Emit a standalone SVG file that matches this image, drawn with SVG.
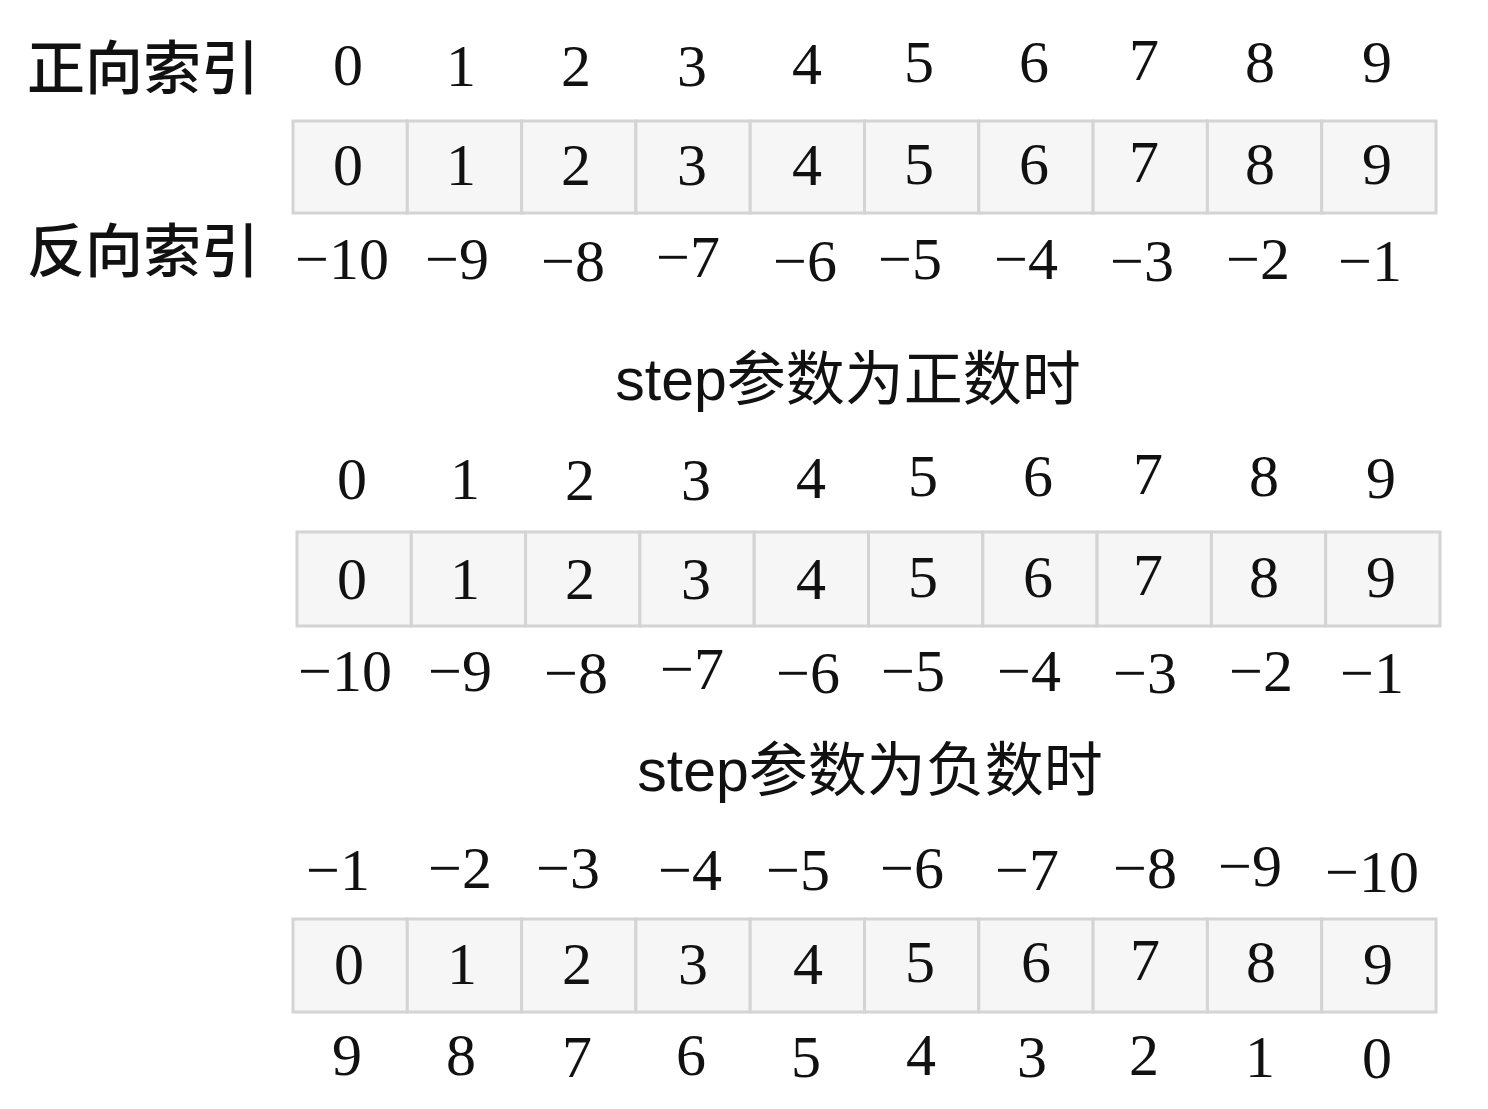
<svg xmlns="http://www.w3.org/2000/svg" width="1488" height="1109" viewBox="0 0 1488 1109">
<style>
.bg{fill:#ffffff}
.cell{fill:#f6f6f6;stroke:#d4d4d4;stroke-width:3}
.n{font-family:"Liberation Serif","Times New Roman",serif;font-size:60px;fill:#111;text-anchor:middle}
.lab{font-family:"Noto Sans CJK SC","Noto Sans",sans-serif;font-size:58px;font-weight:500;fill:#111}
.title{font-family:"Liberation Sans","Noto Sans CJK SC",sans-serif;font-size:59px;fill:#111;text-anchor:middle}
</style>
<rect class="bg" x="0" y="0" width="1488" height="1109"/>
<g id="labels">
<text class="lab" x="27" y="89">正向索引</text>
<text class="lab" x="27" y="272">反向索引</text>
</g>
<g id="array1">
<rect class="cell" x="293" y="121" width="114.3" height="92"/>
<rect class="cell" x="407.3" y="121" width="114.3" height="92"/>
<rect class="cell" x="521.6" y="121" width="114.3" height="92"/>
<rect class="cell" x="635.9" y="121" width="114.3" height="92"/>
<rect class="cell" x="750.2" y="121" width="114.3" height="92"/>
<rect class="cell" x="864.5" y="121" width="114.3" height="92"/>
<rect class="cell" x="978.8" y="121" width="114.3" height="92"/>
<rect class="cell" x="1093.1" y="121" width="114.3" height="92"/>
<rect class="cell" x="1207.4" y="121" width="114.3" height="92"/>
<rect class="cell" x="1321.7" y="121" width="114.3" height="92"/>
<text class="n" x="348" y="185">0</text>
<text class="n" x="461" y="185">1</text>
<text class="n" x="576" y="185">2</text>
<text class="n" x="692" y="185">3</text>
<text class="n" x="807" y="185">4</text>
<text class="n" x="919" y="184">5</text>
<text class="n" x="1034" y="184">6</text>
<text class="n" x="1144" y="182">7</text>
<text class="n" x="1260" y="184">8</text>
<text class="n" x="1377" y="184">9</text>
</g>
<g id="row1-top">
<text class="n" x="348" y="85">0</text>
<text class="n" x="461" y="86">1</text>
<text class="n" x="576" y="86">2</text>
<text class="n" x="692" y="86">3</text>
<text class="n" x="807" y="84">4</text>
<text class="n" x="919" y="82">5</text>
<text class="n" x="1034" y="82">6</text>
<text class="n" x="1144" y="80">7</text>
<text class="n" x="1260" y="82">8</text>
<text class="n" x="1377" y="82">9</text>
</g>
<g id="row1-bottom">
<text class="n" x="342" y="279">−10</text>
<text class="n" x="457" y="279">−9</text>
<text class="n" x="573" y="281">−8</text>
<text class="n" x="688" y="277">−7</text>
<text class="n" x="805" y="281">−6</text>
<text class="n" x="910" y="279">−5</text>
<text class="n" x="1026" y="279">−4</text>
<text class="n" x="1142" y="281">−3</text>
<text class="n" x="1258" y="279">−2</text>
<text class="n" x="1370" y="281">−1</text>
</g>
<g id="title1">
<text class="title" x="848" y="400">step参数为正数时</text>
</g>
<g id="array2">
<rect class="cell" x="297" y="532" width="114.3" height="94"/>
<rect class="cell" x="411.3" y="532" width="114.3" height="94"/>
<rect class="cell" x="525.6" y="532" width="114.3" height="94"/>
<rect class="cell" x="639.9" y="532" width="114.3" height="94"/>
<rect class="cell" x="754.2" y="532" width="114.3" height="94"/>
<rect class="cell" x="868.5" y="532" width="114.3" height="94"/>
<rect class="cell" x="982.8" y="532" width="114.3" height="94"/>
<rect class="cell" x="1097.1" y="532" width="114.3" height="94"/>
<rect class="cell" x="1211.4" y="532" width="114.3" height="94"/>
<rect class="cell" x="1325.7" y="532" width="114.3" height="94"/>
<text class="n" x="352" y="599">0</text>
<text class="n" x="465" y="599">1</text>
<text class="n" x="580" y="599">2</text>
<text class="n" x="696" y="599">3</text>
<text class="n" x="811" y="599">4</text>
<text class="n" x="923" y="597">5</text>
<text class="n" x="1038" y="597">6</text>
<text class="n" x="1148" y="595">7</text>
<text class="n" x="1264" y="597">8</text>
<text class="n" x="1381" y="597">9</text>
</g>
<g id="row2-top">
<text class="n" x="352" y="499">0</text>
<text class="n" x="465" y="499">1</text>
<text class="n" x="580" y="500">2</text>
<text class="n" x="696" y="500">3</text>
<text class="n" x="811" y="498">4</text>
<text class="n" x="923" y="496">5</text>
<text class="n" x="1038" y="496">6</text>
<text class="n" x="1148" y="494">7</text>
<text class="n" x="1264" y="496">8</text>
<text class="n" x="1381" y="498">9</text>
</g>
<g id="row2-bottom">
<text class="n" x="345" y="691">−10</text>
<text class="n" x="460" y="691">−9</text>
<text class="n" x="576" y="693">−8</text>
<text class="n" x="692" y="689">−7</text>
<text class="n" x="808" y="693">−6</text>
<text class="n" x="913" y="691">−5</text>
<text class="n" x="1029" y="691">−4</text>
<text class="n" x="1145" y="693">−3</text>
<text class="n" x="1261" y="691">−2</text>
<text class="n" x="1372" y="693">−1</text>
</g>
<g id="title2">
<text class="title" x="870" y="791">step参数为负数时</text>
</g>
<g id="row3-top">
<text class="n" x="338" y="890">−1</text>
<text class="n" x="460" y="888">−2</text>
<text class="n" x="568" y="888">−3</text>
<text class="n" x="690" y="890">−4</text>
<text class="n" x="798" y="890">−5</text>
<text class="n" x="912" y="888">−6</text>
<text class="n" x="1027" y="890">−7</text>
<text class="n" x="1145" y="888">−8</text>
<text class="n" x="1250" y="886">−9</text>
<text class="n" x="1372" y="892">−10</text>
</g>
<g id="array3">
<rect class="cell" x="293" y="919" width="114.3" height="93"/>
<rect class="cell" x="407.3" y="919" width="114.3" height="93"/>
<rect class="cell" x="521.6" y="919" width="114.3" height="93"/>
<rect class="cell" x="635.9" y="919" width="114.3" height="93"/>
<rect class="cell" x="750.2" y="919" width="114.3" height="93"/>
<rect class="cell" x="864.5" y="919" width="114.3" height="93"/>
<rect class="cell" x="978.8" y="919" width="114.3" height="93"/>
<rect class="cell" x="1093.1" y="919" width="114.3" height="93"/>
<rect class="cell" x="1207.4" y="919" width="114.3" height="93"/>
<rect class="cell" x="1321.7" y="919" width="114.3" height="93"/>
<text class="n" x="349" y="984">0</text>
<text class="n" x="462" y="984">1</text>
<text class="n" x="577" y="984">2</text>
<text class="n" x="693" y="984">3</text>
<text class="n" x="808" y="984">4</text>
<text class="n" x="920" y="982">5</text>
<text class="n" x="1036" y="982">6</text>
<text class="n" x="1145" y="980">7</text>
<text class="n" x="1261" y="982">8</text>
<text class="n" x="1378" y="984">9</text>
</g>
<g id="row3-bottom">
<text class="n" x="347" y="1075">9</text>
<text class="n" x="461" y="1075">8</text>
<text class="n" x="577" y="1077">7</text>
<text class="n" x="691" y="1075">6</text>
<text class="n" x="806" y="1077">5</text>
<text class="n" x="921" y="1075">4</text>
<text class="n" x="1032" y="1077">3</text>
<text class="n" x="1144" y="1075">2</text>
<text class="n" x="1260" y="1077">1</text>
<text class="n" x="1377" y="1078">0</text>
</g>
</svg>
